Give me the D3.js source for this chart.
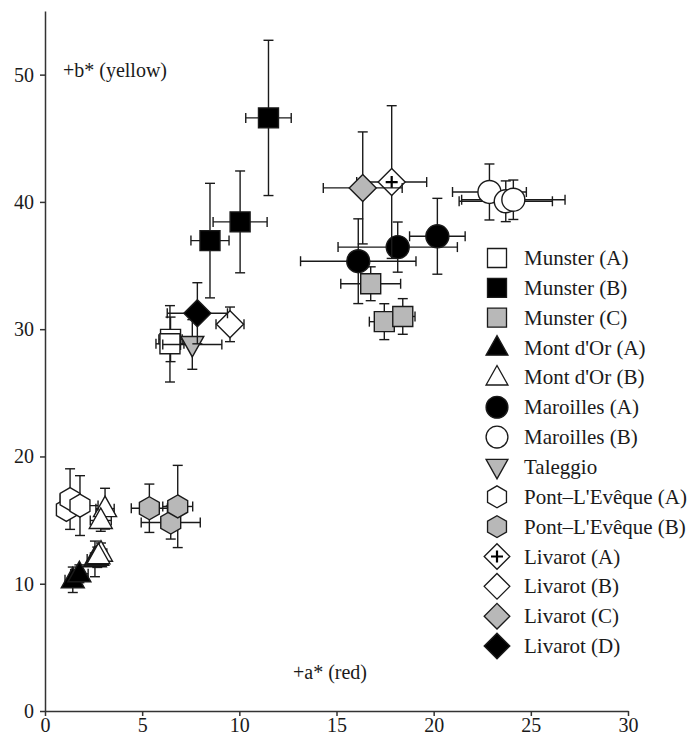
<!DOCTYPE html>
<html>
<head>
<meta charset="utf-8">
<script src="https://cdn.jsdelivr.net/npm/d3@7"></script>
<style>
  html, body { margin: 0; padding: 0; background: #fff; }
  svg text { font-family: "Liberation Serif", "Times New Roman", serif; fill: #1a1a1a; }
</style>
</head>
<body>
<svg id="chart" width="693" height="736"></svg>
<script>
// ---- data: [a*, b*, a* error, b* error] ----
const munsterA   = [[6.46, 29.2, 0.6, 1.75], [6.43, 28.85, 0.72, 3.0]];
const munsterB   = [[8.49, 36.96, 0.98, 4.5], [10.04, 38.43, 1.39, 4.0], [11.5, 46.6, 1.17, 6.1]];
const munsterC   = [[16.76, 33.57, 1.54, 1.33], [17.46, 30.59, 0.77, 1.41], [18.41, 31.0, 0.63, 1.4]];
const montOrA    = [[1.43, 10.31, 0.4, 1.0], [1.77, 10.78, 0.45, 0.7], [2.57, 11.95, 0.4, 1.4], [2.69, 12.08, 0.35, 0.8]];
const montOrB    = [[3.09, 15.9, 0.47, 1.6], [2.87, 14.97, 0.54, 0.85], [2.88, 12.4, 0.3, 0.8], [2.75, 12.2, 0.3, 0.6]];
const maroillesA = [[16.12, 35.34, 2.97, 3.33], [18.15, 36.45, 3.07, 1.97], [20.19, 37.3, 1.43, 2.98]];
const maroillesB = [[22.87, 40.78, 1.9, 2.2], [23.71, 40.05, 2.4, 1.6], [24.1, 40.17, 2.66, 1.55]];
const taleggio   = [[7.58, 28.8, 1.52, 1.95]];
const pontA      = [[1.1, 15.8, 0.3, 0.5], [1.29, 16.65, 0.5, 2.38], [1.8, 16.14, 0.93, 2.35]];
const pontB      = [[5.37, 15.93, 0.93, 1.9], [6.47, 14.81, 1.52, 1.3], [6.83, 16.07, 0.77, 3.23]];
const livarotA   = [[17.84, 41.56, 1.8, 6.0]];
const livarotB   = [[9.52, 30.38, 0.72, 1.36]];
const livarotC   = [[16.35, 41.1, 2.03, 4.4]];
const livarotD   = [[7.84, 31.25, 1.55, 2.4]];

const seriesNames = ["Munster (A)", "Munster (B)", "Munster (C)", "Mont d'Or (A)", "Mont d'Or (B)",
  "Maroilles (A)", "Maroilles (B)", "Taleggio", "Pont\u2013L'Evêque (A)", "Pont\u2013L'Evêque (B)",
  "Livarot (A)", "Livarot (B)", "Livarot (C)", "Livarot (D)"];
const seriesData = [munsterA, munsterB, munsterC, montOrA, montOrB, maroillesA, maroillesB,
  taleggio, pontA, pontB, livarotA, livarotB, livarotC, livarotD];
const seriesShape = ["square", "square", "square", "triUp", "triUp", "circle", "circle",
  "triDown", "hexagon", "hexagon", "diamondPlus", "diamond", "diamond", "diamond"];
const seriesFill = ["#ffffff", "#000000", "#b8b8b8", "#000000", "#ffffff", "#000000", "#ffffff",
  "#b8b8b8", "#ffffff", "#b8b8b8", "#ffffff", "#ffffff", "#b8b8b8", "#000000"];

const xTicks = [0, 5, 10, 15, 20, 25, 30];
const yTicks = [0, 10, 20, 30, 40, 50];

// ---- layout ----
const svg = d3.select("#chart");
svg.append("rect").attr("width", 693).attr("height", 736).attr("fill", "#fff");

const x = d3.scaleLinear().domain([0, 30]).range([45, 628]);
const y = d3.scaleLinear().domain([0, 55]).range([711, 11]);

function shapePath(shape) {
  switch (shape) {
    case "square": { const h = 10; return `M${-h},${-h}H${h}V${h}H${-h}Z`; }
    case "circle": { const r = 11.5; return `M${r},0A${r},${r} 0 1,1 ${-r},0A${r},${r} 0 1,1 ${r},0Z`; }
    case "triUp": return "M0,-12.5L11.5,8L-11.5,8Z";
    case "triDown": return "M0,12.5L11.5,-8L-11.5,-8Z";
    case "hexagon": {
      const pts = d3.range(6).map(i => { const a = Math.PI / 3 * i - Math.PI / 2; return [11.5 * Math.cos(a), 11.5 * Math.sin(a)]; });
      return "M" + pts.map(p => p.join(",")).join("L") + "Z";
    }
    case "diamond": case "diamondPlus": return "M0,-13.5L13.5,0L0,13.5L-13.5,0Z";
  }
}

const stroke = "#1a1a1a";
const plot = svg.append("g");
const cap = 5;

seriesData.forEach((pts, si) => {
  const g = plot.append("g");
  pts.forEach(p => {
    const cx = x(p[0]), cy = y(p[1]);
    const x0 = x(p[0] - p[2]), x1 = x(p[0] + p[2]);
    const y0 = y(p[1] - p[3]), y1 = y(p[1] + p[3]);
    const eb = g.append("g").attr("stroke", stroke).attr("stroke-width", 1.4).attr("fill", "none");
    eb.append("line").attr("x1", x0).attr("x2", x1).attr("y1", cy).attr("y2", cy);
    eb.append("line").attr("x1", x0).attr("x2", x0).attr("y1", cy - cap).attr("y2", cy + cap);
    eb.append("line").attr("x1", x1).attr("x2", x1).attr("y1", cy - cap).attr("y2", cy + cap);
    eb.append("line").attr("x1", cx).attr("x2", cx).attr("y1", y0).attr("y2", y1);
    eb.append("line").attr("x1", cx - cap).attr("x2", cx + cap).attr("y1", y0).attr("y2", y0);
    eb.append("line").attr("x1", cx - cap).attr("x2", cx + cap).attr("y1", y1).attr("y2", y1);
  });
  pts.forEach(p => {
    const cx = x(p[0]), cy = y(p[1]);
    g.append("path").attr("d", shapePath(seriesShape[si]))
      .attr("transform", `translate(${cx},${cy})`)
      .attr("fill", seriesFill[si]).attr("stroke", stroke).attr("stroke-width", 1.4);
    if (seriesShape[si] === "diamondPlus") {
      g.append("path").attr("d", "M-6,0H6M0,-6V6").attr("transform", `translate(${cx},${cy})`)
        .attr("stroke", "#000").attr("stroke-width", 2.2);
    }
  });
});

// ---- axes ----
const xAxis = svg.append("g").attr("transform", "translate(0,711)")
  .call(d3.axisBottom(x).tickValues(xTicks).tickSize(5).tickSizeOuter(0).tickPadding(2).tickFormat(d3.format("d")));
const yAxis = svg.append("g").attr("transform", "translate(45,0)")
  .call(d3.axisLeft(y).tickValues(yTicks).tickSize(5).tickSizeOuter(0).tickPadding(6).tickFormat(d3.format("d")));
[xAxis, yAxis].forEach(ax => {
  ax.attr("font-family", '"Liberation Serif", serif').attr("font-size", 20);
  ax.selectAll("path,line").attr("stroke", "#333").attr("stroke-width", 1.5);
  ax.selectAll("text").attr("font-family", '"Liberation Serif", serif').attr("font-size", 20).attr("fill", "#1a1a1a");
});

// ---- annotations ----
svg.append("text").attr("x", 63).attr("y", 77).attr("font-size", 20).text("+b* (yellow)");
svg.append("text").attr("x", 293).attr("y", 679).attr("font-size", 20).text("+a* (red)");

// ---- legend ----
const legend = svg.append("g");
seriesNames.forEach((name, i) => {
  const ly = 258 + i * 29.85;
  legend.append("path").attr("d", shapePath(seriesShape[i]))
    .attr("transform", `translate(497,${ly}) scale(0.95)`)
    .attr("fill", seriesFill[i]).attr("stroke", stroke).attr("stroke-width", 1.4);
  if (seriesShape[i] === "diamondPlus") {
    legend.append("path").attr("d", "M-6,0H6M0,-6V6").attr("transform", `translate(497,${ly})`)
      .attr("stroke", "#000").attr("stroke-width", 2.2);
  }
  legend.append("text").attr("x", 524).attr("y", ly + 7).attr("font-size", 21).text(name);
});
</script>
</body>
</html>
